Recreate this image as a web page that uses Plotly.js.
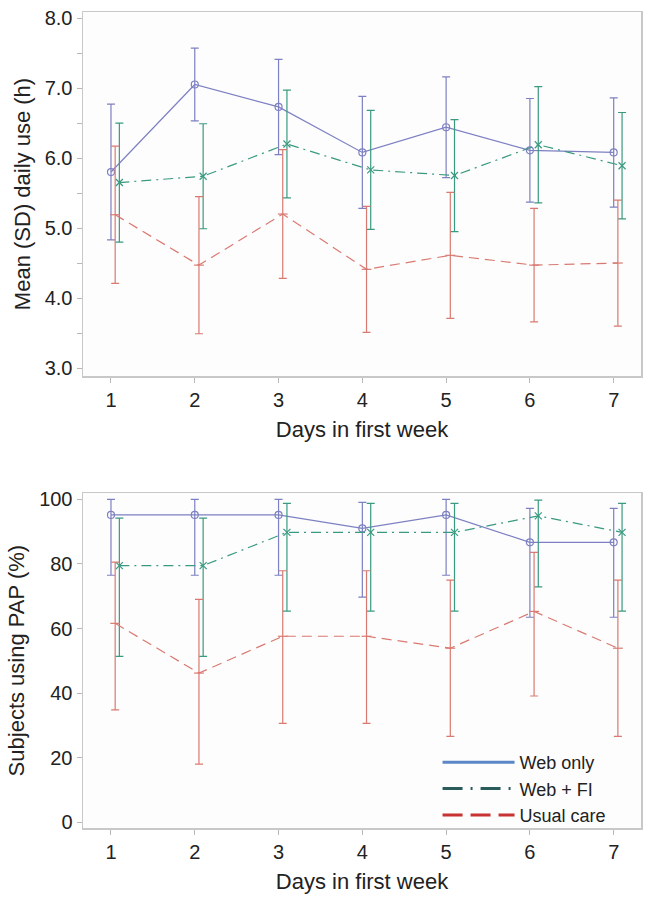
<!DOCTYPE html>
<html>
<head>
<meta charset="utf-8">
<script src="https://cdn.plot.ly/plotly-3.0.1.min.js"></script>
<style>html,body{margin:0;padding:0;background:#fff;}#chart{width:649px;height:898px;}</style>
</head>
<body>
<div id="chart"></div>
<script>
// ---- Data ----
const days = [1, 2, 3, 4, 5, 6, 7];
const seriesNames = ["Web only", "Web + FI", "Usual care"];

// Top panel: mean (SD) daily use (h)
const webOnlyMean = [5.80, 7.05, 6.73, 6.08, 6.44, 6.11, 6.08];
const webOnlySD   = [0.97, 0.52, 0.68, 0.80, 0.72, 0.74, 0.78];
const webFIMean   = [5.65, 5.74, 6.20, 5.83, 5.75, 6.19, 5.89];
const webFISD     = [0.85, 0.75, 0.77, 0.85, 0.80, 0.83, 0.76];
const usualMean   = [5.19, 4.47, 5.20, 4.41, 4.61, 4.47, 4.50];
const usualSD     = [0.98, 0.98, 0.92, 0.90, 0.90, 0.81, 0.90];

// Bottom panel: subjects using PAP (%), with interval bounds
const webOnlyPct = [95.2, 95.2, 95.2, 91.0, 95.2, 86.7, 86.7];
const webOnlyHi  = [100, 100, 100, 99.1, 100, 97.2, 97.2];
const webOnlyLo  = [76.5, 76.5, 76.5, 69.7, 76.5, 63.5, 63.5];
const webFIPct   = [79.5, 79.5, 89.8, 89.8, 89.8, 94.9, 89.8];
const webFIHi    = [94.2, 94.2, 98.8, 98.8, 98.8, 99.8, 98.8];
const webFILo    = [51.4, 51.4, 65.4, 65.4, 65.4, 72.9, 65.4];
const usualPct   = [61.6, 46.2, 57.6, 57.6, 53.9, 65.3, 53.9];
const usualHi    = [80.6, 69.0, 77.9, 77.9, 75.0, 83.6, 75.0];
const usualLo    = [34.8, 18.0, 30.6, 30.6, 26.6, 39.1, 26.6];

// ---- Styles ----
const FONT = "Liberation Sans, Arial, Helvetica, sans-serif";
const lineCol = ["#7d80c2", "#3a9a80", "#d97a72"];
const legCol  = ["#5b86c8", "#2a5c5c", "#c83232"];
const dashes  = ["solid", "10px,5px,2px,5px", "10px,6px"];
const legDash = ["solid", "20px,8px,2px,8px", "20px,8px"];
const offsets = [0, 0.1, 0.05];
const symbols = ["circle-open", "x-thin-open", "line-ew-open"];

function shift(arr, off) { return arr.map(v => v + off); }
function diff(a, b) { return a.map((v, i) => v - b[i]); }

const traces = [];
const topMeans = [webOnlyMean, webFIMean, usualMean];
const topSDs = [webOnlySD, webFISD, usualSD];
const botPct = [webOnlyPct, webFIPct, usualPct];
const botHi = [webOnlyHi, webFIHi, usualHi];
const botLo = [webOnlyLo, webFILo, usualLo];

for (let i = 0; i < 3; i++) {
  traces.push({
    type: "scatter", mode: "lines+markers", showlegend: false,
    x: shift(days, offsets[i]), y: topMeans[i], xaxis: "x", yaxis: "y",
    line: { color: lineCol[i], width: 1.2, dash: dashes[i] },
    marker: { symbol: symbols[i], size: 7, color: lineCol[i], line: { color: lineCol[i], width: 1.2 } },
    error_y: { type: "data", array: topSDs[i], visible: true, color: lineCol[i], thickness: 1.2, width: 4 }
  });
}
for (let i = 0; i < 3; i++) {
  traces.push({
    type: "scatter", mode: "lines+markers", showlegend: false,
    x: shift(days, offsets[i]), y: botPct[i], xaxis: "x2", yaxis: "y2",
    line: { color: lineCol[i], width: 1.2, dash: dashes[i] },
    marker: { symbol: symbols[i], size: 7, color: lineCol[i], line: { color: lineCol[i], width: 1.2 } },
    error_y: { type: "data", symmetric: false, array: diff(botHi[i], botPct[i]),
               arrayminus: diff(botPct[i], botLo[i]), visible: true,
               color: lineCol[i], thickness: 1.2, width: 4 }
  });
}
// legend-only entries
for (let i = 0; i < 3; i++) {
  traces.push({
    type: "scatter", mode: "lines", name: seriesNames[i],
    x: [null], y: [null], xaxis: "x2", yaxis: "y2",
    line: { color: legCol[i], width: 3, dash: legDash[i] }
  });
}

const axisCommon = {
  showline: true, mirror: true, linecolor: "#c8c8c8", linewidth: 1.5,
  showgrid: false, zeroline: false,
  ticks: "outside", ticklen: 5, tickcolor: "#b8b8b8", tickwidth: 1,
  tickfont: { family: FONT, size: 20, color: "#222" }
};

const xCommon = Object.assign({}, axisCommon, {
  range: [0.666, 7.326], tickvals: days, ticktext: days.map(String),
  title: { text: "Days in first week", font: { family: FONT, size: 22, color: "#222" }, standoff: 12 }
});

const layout = {
  width: 649, height: 898,
  margin: { l: 83, r: 8, t: 12, b: 70 },
  paper_bgcolor: "#ffffff", plot_bgcolor: "#fdfdfd",
  font: { family: FONT, color: "#222" },
  xaxis: Object.assign({}, xCommon, { anchor: "y", domain: [0, 1] }),
  xaxis2: Object.assign({}, xCommon, { anchor: "y2", domain: [0, 1] }),
  yaxis: Object.assign({}, axisCommon, {
    anchor: "x", domain: [0.5539, 1], range: [2.886, 8.086],
    tick0: 3, dtick: 1, tickformat: ".1f",
    minor: { dtick: 0.5, tick0: 3, ticks: "outside", ticklen: 5, tickcolor: "#b8b8b8" },
    title: { text: "Mean (SD) daily use (h)", font: { family: FONT, size: 22, color: "#222" }, standoff: 8 }
  }),
  yaxis2: Object.assign({}, axisCommon, {
    anchor: "x2", domain: [0, 0.4102], range: [-1.8, 101.9],
    tick0: 0, dtick: 20,
    title: { text: "Subjects using PAP (%)", font: { family: FONT, size: 22, color: "#222" }, standoff: 8 }
  }),
  showlegend: true,
  legend: {
    x: 0.6354, y: 0.103, xanchor: "left", yanchor: "top",
    bgcolor: "rgba(0,0,0,0)", borderwidth: 0,
    itemwidth: 72,
    font: { family: FONT, size: 18, color: "#222" },
    tracegroupgap: 0
  }
};

Plotly.newPlot("chart", traces, layout, { displayModeBar: false, staticPlot: true });
</script>
</body>
</html>
